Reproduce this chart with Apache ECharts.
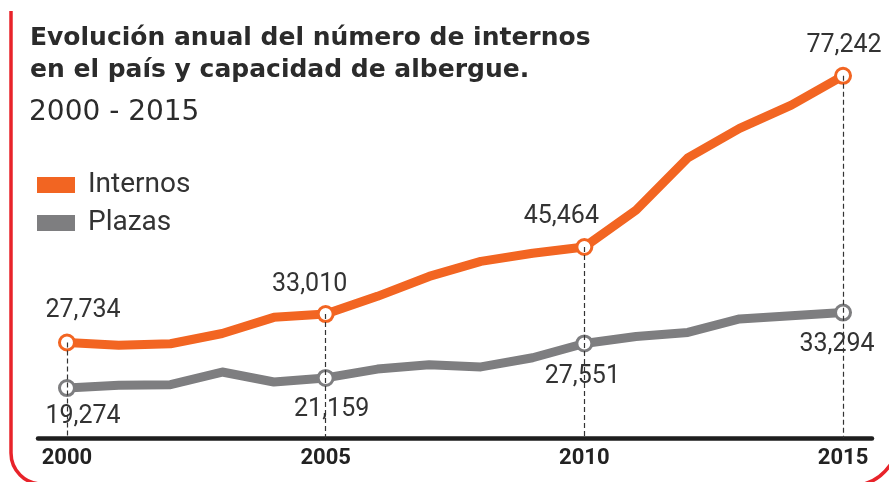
<!DOCTYPE html>
<html>
<head>
<meta charset="utf-8">
<script src="https://cdn.jsdelivr.net/npm/echarts@6/dist/echarts.min.js"></script>
<style>
  html, body { margin: 0; padding: 0; background: #fff; }
  #main { width: 889px; height: 482px; }
</style>
</head>
<body>
<div id="main"></div>
<script>
// 年份
const years = [2000, 2001, 2002, 2003, 2004, 2005, 2006, 2007, 2008, 2009, 2010, 2011, 2012, 2013, 2014, 2015]
// internos
const internos = [27734, 27200, 27500, 29400, 32400, 33010, 36300, 40000, 42800, 44300, 45464, 52300, 62000, 67500, 71800, 77242]
// plazas
const plazas = [19274, 19800, 19900, 22250, 20400, 21159, 22800, 23600, 23200, 24900, 27551, 28850, 29600, 32100, 32700, 33294]
// 标注年份
const keyYears = [2000, 2005, 2010, 2015]
const axisYears = [2000, 2005, 2010, 2015]

const orange = '#f26522'
const gray = '#7e7e80'
const textColor = '#333'
const labelFont = 'Roboto, "Noto Sans", sans-serif'
const red = '#e8232a'

// 标签偏移
const orangeShift = [16, -16, -23, 1]
const grayShift = [16, 6, -2, -6]

function buildData(values, shift, pos, dist) {
  return years.map((y, i) => {
    const k = keyYears.indexOf(y)
    if (k < 0) {
      return { value: [y, values[i]], symbolSize: 0, label: { show: false } }
    }
    return {
      value: [y, values[i]],
      symbolSize: 15,
      label: {
        show: true,
        position: pos,
        distance: dist[k],
        offset: [shift[k], 0],
        formatter: p => p.value[1].toLocaleString('en-US'),
        color: textColor,
        fontFamily: labelFont,
        fontSize: 25
      }
    }
  })
}

// 虚线
const dashData = keyYears.map(y => {
  const i = years.indexOf(y)
  return [{ coord: [y, internos[i]] }, { coord: [y, 10000] }]
})

const option = {
  animation: false,
  title: [{
    text: 'Evolución anual del número de internos\nen el país y capacidad de albergue.',
    left: 25,
    top: 17,
    textStyle: {
      fontFamily: '"DejaVu Sans", sans-serif',
      fontWeight: 'bold',
      fontSize: 25,
      lineHeight: 32,
      color: '#2b2b2b'
    }
  }, {
    text: '2000 - 2015',
    left: 24,
    top: 94,
    textStyle: {
      fontFamily: '"DejaVu Sans", sans-serif',
      fontWeight: 'normal',
      fontSize: 28,
      color: '#2b2b2b'
    }
  }],
  legend: {
    orient: 'vertical',
    left: 32,
    top: 166,
    itemWidth: 38,
    itemHeight: 16,
    itemGap: 10,
    icon: 'rect',
    data: [
      { name: 'Internos', itemStyle: { color: orange, borderWidth: 0 } },
      { name: 'Plazas', itemStyle: { color: gray, borderWidth: 0 } }
    ],
    textStyle: {
      fontFamily: labelFont,
      fontSize: 28,
      color: textColor,
      padding: [0, 0, 0, 8]
    }
  },
  grid: {
    left: 38,
    right: 17,
    top: 61,
    bottom: 44
  },
  xAxis: {
    type: 'value',
    min: 1999.44,
    max: 2015.56,
    splitLine: { show: false },
    axisTick: { show: false },
    axisLine: { show: true, lineStyle: { color: '#1e1e1e', width: 4.5 } },
    axisLabel: {
      customValues: axisYears,
      formatter: v => String(v),
      margin: 9,
      fontFamily: labelFont,
      fontWeight: 'bold',
      fontSize: 22,
      color: '#222'
    }
  },
  yAxis: {
    type: 'value',
    min: 10000,
    max: 80000,
    show: false,
    splitLine: { show: false }
  },
  // 红色边框
  graphic: [{
    type: 'polyline',
    silent: true,
    shape: { points: [[11, 11], [11, 453]] },
    style: { fill: null, stroke: red, lineWidth: 3.5 }
  }, {
    type: 'arc',
    silent: true,
    shape: { cx: 42, cy: 453, r: 31, startAngle: Math.PI / 2, endAngle: Math.PI },
    style: { fill: null, stroke: red, lineWidth: 3.5 }
  }, {
    type: 'bezierCurve',
    silent: true,
    shape: { x1: 864, y1: 484, cpx1: 880, cpy1: 480, x2: 891, y2: 464 },
    style: { fill: null, stroke: red, lineWidth: 3.5 }
  }],
  series: [
    {
      name: 'dash',
      type: 'line',
      data: [],
      z: 1,
      markLine: {
        silent: true,
        symbol: ['none', 'none'],
        label: { show: false },
        lineStyle: { color: '#333', width: 1.2, type: [5, 3] },
        data: dashData
      }
    },
    {
      name: 'Internos',
      type: 'line',
      z: 3,
      color: orange,
      symbol: 'circle',
      showAllSymbol: true,
      lineStyle: { width: 9, color: orange, cap: 'round', join: 'round' },
      itemStyle: { color: '#fff', borderColor: orange, borderWidth: 3 },
      data: buildData(internos, orangeShift, 'top', [10, 8, 9, 9])
    },
    {
      name: 'Plazas',
      type: 'line',
      z: 2,
      color: gray,
      symbol: 'circle',
      showAllSymbol: true,
      lineStyle: { width: 9, color: gray, cap: 'round', join: 'round' },
      itemStyle: { color: '#fff', borderColor: gray, borderWidth: 3 },
      data: buildData(plazas, grayShift, 'bottom', [7, 10, 12, 11])
    }
  ]
}

const chart = echarts.init(document.getElementById('main'))
chart.setOption(option)
</script>
</body>
</html>
